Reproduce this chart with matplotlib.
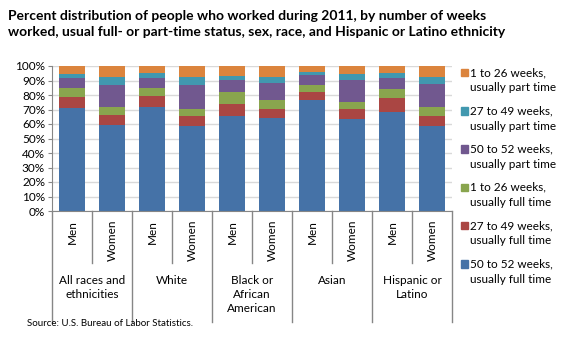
import numpy as np
import matplotlib
matplotlib.use("Agg")
import matplotlib.pyplot as plt
import matplotlib.ticker as ticker
from matplotlib.patches import Rectangle

plt.rcParams['font.family'] = ['Lato', 'DejaVu Sans']

groups = ["All races and\nethnicities", "White", "Black or\nAfrican\nAmerican", "Asian", "Hispanic or\nLatino"]
sexes = ["Men", "Women"]

# percent shares, bars in order: group x (Men, Women)
full_50_52 = [70.8, 59.5, 72.0, 58.6, 65.5, 64.1, 76.6, 63.7, 68.3, 58.6]
full_27_49 = [7.8, 6.7, 7.3, 6.9, 8.3, 6.2, 5.5, 6.6, 9.6, 6.9]
full_1_26 = [6.2, 5.8, 5.5, 5.1, 8.3, 6.3, 4.8, 4.9, 6.2, 6.2]
part_50_52 = [6.9, 14.9, 6.9, 16.5, 8.2, 11.7, 6.9, 15.1, 7.6, 15.9]
part_27_49 = [2.8, 5.5, 3.7, 5.3, 2.8, 4.1, 2.1, 4.2, 3.5, 4.8]
part_1_26 = [5.5, 7.6, 4.6, 7.6, 6.9, 7.6, 4.1, 5.5, 4.8, 7.6]

series = [
    ("50 to 52 weeks,", "usually full time", full_50_52, "#4572A7"),
    ("27 to 49 weeks,", "usually full time", full_27_49, "#AA4643"),
    ("1 to 26 weeks,", "usually full time", full_1_26, "#89A54E"),
    ("50 to 52 weeks,", "usually part time", part_50_52, "#71588F"),
    ("27 to 49 weeks,", "usually part time", part_27_49, "#4198AF"),
    ("1 to 26 weeks,", "usually part time", part_1_26, "#DB843D"),
]

W, H = 580, 360
fig = plt.figure(figsize=(5.8, 3.6), dpi=100)
ax = fig.add_axes([52 / W, 1 - 211 / H, 400 / W, 145 / H])

x = np.arange(10)
bottom = np.zeros(10)
for l1, l2, vals, col in series:
    vals = np.array(vals)
    ax.bar(x, vals, 0.66, bottom=bottom, color=col, zorder=2)
    bottom += vals

ax.set_xlim(-0.5, 9.5)
ax.set_ylim(0, 100)
ax.yaxis.set_major_locator(ticker.MultipleLocator(10))
ax.yaxis.set_major_formatter(ticker.FuncFormatter(lambda v, p: "%d%%" % v))
ax.grid(axis='y', color='#D9D9D9', lw=1, zorder=0)
ax.set_xticks([])
ax.tick_params(axis='y', length=3, color='#868686', labelsize=8.5, pad=2)
for s in ['top', 'right']:
    ax.spines[s].set_visible(False)
for s in ['left', 'bottom']:
    ax.spines[s].set_color('#868686')

tr = ax.get_xaxis_transform()
for i in range(11):
    xs = i - 0.5
    end = -0.7655 if i % 2 == 0 else -0.3586
    ax.plot([xs, xs], [0, end], transform=tr, color='#868686', lw=1, clip_on=False)

for i in range(10):
    ax.text(i, -0.062, sexes[i % 2], rotation=90, ha='center', va='top',
            transform=tr, fontsize=8.5)
for g, name in enumerate(groups):
    ax.text(2 * g + 0.5, -0.44, name, ha='center', va='top', transform=tr,
            fontsize=8.5, linespacing=1.35)

# legend, top entry is the last series
for k, (l1, l2, vals, col) in enumerate(series[::-1]):
    y0 = 72.5 + 38.3 * k
    fig.patches.append(Rectangle((461 / W, 1 - (y0 + 3.7) / H), 6.8 / W, 7.4 / H,
                                 transform=fig.transFigure, color=col))
    fig.text(470.5 / W, 1 - y0 / H, l1, fontsize=8.5, va='center', ha='left')
    fig.text(470.5 / W, 1 - (y0 + 15.3) / H, l2, fontsize=8.5, va='center', ha='left')

fig.text(8 / W, 1 - 10 / H,
         "Percent distribution of people who worked during 2011, by number of weeks\n"
         "worked, usual full- or part-time status, sex, race, and Hispanic or Latino ethnicity",
         fontsize=10, fontweight='bold', va='top', ha='left', linespacing=1.45)
fig.text(27 / W, 1 - 323 / H, "Source: U.S. Bureau of Labor Statistics.",
         fontsize=7, va='center', ha='left')

fig.savefig("out.png", dpi=100)
